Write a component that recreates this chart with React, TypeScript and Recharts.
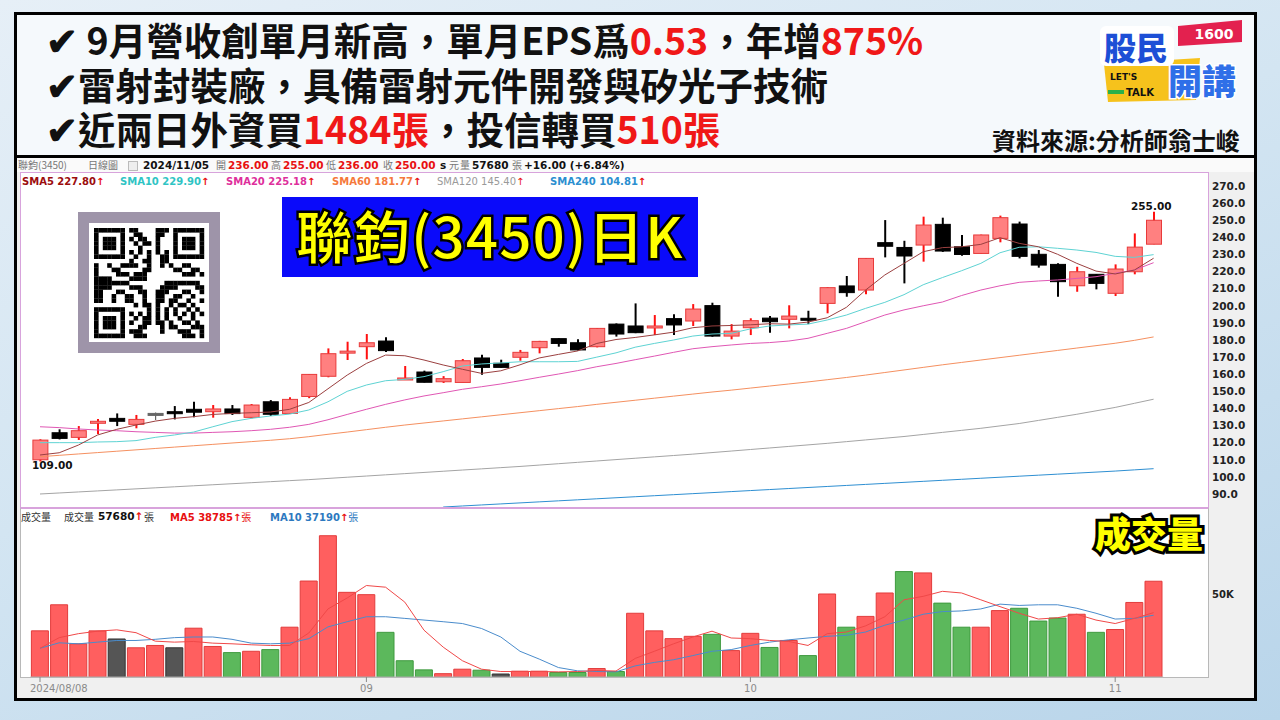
import React from "react";
import { ComposedChart, Bar, Line, XAxis, YAxis, Cell } from "recharts";

const CJK = '"Noto Sans CJK TC", "Noto Sans", sans-serif';
const VERD = '"DejaVu Sans", Verdana, sans-serif';

// trading days 2024/08/08 - 2024/11/05
const DATES = [
  "08/08", "08/09", "08/12", "08/13", "08/14", "08/15", "08/16", "08/19", "08/20", "08/21",
  "08/22", "08/23", "08/26", "08/27", "08/28", "08/29", "08/30",
  "09/02", "09/03", "09/04", "09/05", "09/06", "09/09", "09/10", "09/11", "09/12", "09/13",
  "09/16", "09/18", "09/19", "09/20", "09/23", "09/24", "09/25", "09/26", "09/27", "09/30",
  "10/01", "10/04", "10/07", "10/08", "10/09", "10/11", "10/14", "10/15", "10/16", "10/17",
  "10/18", "10/21", "10/22", "10/23", "10/24", "10/25", "10/28", "10/29", "10/30",
  "11/01", "11/04", "11/05",
];

const OPEN = [
  110.0, 125.8, 123.1, 132.0, 134.2, 130.7, 137.1, 138.1, 139.5, 138.1,
  139.7, 134.8, 143.9, 137.1, 147.0, 158.8, 172.5, 176.1, 179.4, 157.2,
  161.3, 155.6, 155.2, 169.5, 166.4, 169.9, 175.5, 180.8, 178.4, 176.1,
  189.3, 188.2, 187.2, 192.5, 191.1, 200.1, 182.3, 187.2, 192.8, 192.1,
  192.7, 201.4, 211.6, 209.2, 236.9, 234.1, 235.5, 247.6, 234.5, 230.6,
  239.4, 247.8, 230.1, 224.2, 211.7, 218.4, 207.3, 219.9, 236.0,
];
const HIGH = [
  122.0, 127.8, 129.7, 133.8, 137.1, 136.2, 137.7, 141.4, 143.9, 142.0,
  142.0, 142.6, 144.9, 146.5, 160.0, 175.1, 179.0, 183.5, 181.6, 164.8,
  162.1, 158.9, 168.9, 171.4, 168.5, 174.2, 179.5, 181.0, 180.4, 187.0,
  189.7, 201.4, 194.6, 195.0, 201.0, 201.8, 189.3, 192.7, 194.0, 200.3,
  197.1, 210.9, 217.4, 227.9, 250.1, 238.0, 252.1, 251.5, 241.4, 241.6,
  252.7, 249.2, 232.6, 224.8, 222.8, 218.6, 224.2, 242.3, 255.0,
];
const LOW = [
  109.0, 121.9, 121.6, 125.1, 129.7, 128.4, 133.2, 133.6, 134.8, 134.6,
  136.2, 134.2, 135.6, 136.8, 146.0, 158.2, 168.3, 168.7, 173.0, 157.0,
  155.2, 154.9, 155.2, 159.7, 163.8, 167.9, 172.2, 176.1, 173.8, 175.7,
  182.0, 184.0, 182.9, 182.9, 188.2, 181.9, 180.4, 182.9, 184.3, 186.8,
  189.3, 195.6, 205.3, 206.7, 228.3, 213.1, 225.8, 231.5, 229.3, 230.4,
  237.1, 227.7, 222.3, 205.3, 208.2, 209.6, 205.7, 218.4, 236.0,
];
const CLOSE = [
  121.5, 122.5, 127.0, 132.5, 132.5, 133.6, 137.1, 137.1, 137.8, 139.7,
  137.0, 142.0, 136.6, 145.3, 159.9, 172.0, 173.5, 178.4, 173.8, 157.8,
  155.3, 157.4, 167.9, 164.0, 164.0, 172.8, 179.2, 178.0, 174.2, 186.8,
  183.5, 184.3, 188.2, 188.8, 198.1, 182.3, 185.2, 191.3, 190.7, 194.0,
  191.9, 210.6, 207.7, 227.7, 234.8, 229.1, 247.2, 232.0, 230.0, 241.4,
  251.5, 228.9, 223.8, 214.1, 219.9, 213.1, 221.5, 234.3, 250.0,
];

const SMA5 = [
  112.8, 114.1, 118.6, 124.5, 127.8, 130.3, 132.6, 134.2, 135.2, 136.5,
  137.1, 137.5, 137.9, 139.5, 143.5, 151.5, 159.5, 166.3, 171.2, 170.8,
  168.3, 165.4, 162.9, 160.5, 162.0, 165.5, 169.5, 171.6, 173.6, 178.0,
  180.3, 181.5, 183.0, 184.6, 187.2, 188.2, 188.5, 188.9, 189.5, 189.3,
  190.5, 193.0, 199.1, 209.2, 218.0, 224.8, 231.6, 234.0, 234.5, 235.9,
  239.8, 236.5, 234.5, 230.1, 224.8, 220.3, 218.6, 220.9, 227.8,
];
const SMA10 = [
  120.0, 120.0, 120.0, 120.4, 120.6, 121.2, 123.1, 124.5, 126.2, 129.3,
  132.3, 134.2, 135.6, 136.7, 139.1, 143.9, 150.0, 153.7, 156.2, 157.0,
  158.6, 161.5, 164.8, 166.0, 166.6, 167.3, 167.3, 167.3, 167.5, 170.0,
  172.5, 175.8, 178.0, 180.0, 182.3, 183.5, 183.9, 186.5, 188.2, 188.8,
  189.3, 191.7, 194.6, 198.5, 202.0, 206.5, 212.3, 216.5, 220.5, 224.8,
  231.0, 234.2, 234.5, 233.6, 232.6, 231.2, 228.9, 228.3, 229.9,
];
const SMA20 = [
  129.3, 128.8, 128.0, 127.4, 127.0, 126.4, 126.0, 125.6, 125.6, 126.0,
  126.4, 127.0, 127.8, 129.0, 130.7, 133.4, 136.5, 139.5, 142.4, 145.0,
  147.3, 149.2, 151.2, 152.7, 154.3, 156.2, 158.2, 160.1, 162.1, 164.4,
  166.3, 168.5, 170.6, 172.8, 174.9, 176.1, 177.1, 178.0, 178.5, 179.4,
  181.0, 183.9, 186.8, 190.7, 194.6, 197.6, 200.0, 202.2, 206.0, 209.2,
  211.7, 213.7, 214.5, 215.1, 216.0, 217.0, 219.0, 220.9, 225.2,
];
const SMA60 = [
  111.8, 112.6, 113.4, 114.2, 115.0, 115.8, 116.6, 117.4, 118.2, 119.0,
  119.8, 120.6, 121.4, 122.3, 123.5, 124.9, 126.2, 127.6, 129.0, 130.3,
  131.5, 132.7, 133.9, 135.1, 136.3, 137.5, 138.7, 139.9, 141.1, 142.4,
  143.6, 144.8, 146.0, 147.2, 148.4, 149.6, 150.7, 151.9, 153.1, 154.3,
  155.5, 156.8, 158.1, 159.5, 161.0, 162.5, 164.0, 165.5, 166.9, 168.3,
  169.7, 171.1, 172.5, 173.9, 175.3, 176.7, 178.1, 179.8, 181.8,
];
const SMA120 = [
  90.0, 90.6, 91.2, 91.8, 92.4, 93.0, 93.6, 94.2, 94.8, 95.4,
  96.0, 96.6, 97.2, 97.8, 98.4, 99.1, 99.8, 100.5, 101.2, 101.9,
  102.6, 103.3, 104.0, 104.7, 105.4, 106.1, 106.9, 107.7, 108.5, 109.3,
  110.1, 110.9, 111.7, 112.5, 113.3, 114.2, 115.1, 116.0, 116.9, 117.8,
  118.7, 119.6, 120.6, 121.6, 122.6, 123.6, 124.8, 126.0, 127.2, 128.4,
  129.8, 131.2, 133.0, 134.8, 136.6, 138.6, 140.6, 143.0, 145.4,
];
const SMA240 = [
  null, null, null, null, null, null, null, null, null, null,
  null, null, null, null, null, null, null, null, null, null,
  null, 82.4, 83.0, 83.6, 84.2, 84.8, 85.4, 86.0, 86.6, 87.2,
  87.8, 88.4, 89.0, 89.6, 90.2, 90.8, 91.4, 92.0, 92.6, 93.2,
  93.8, 94.4, 95.0, 95.6, 96.2, 96.8, 97.4, 98.0, 98.6, 99.2,
  99.8, 100.4, 101.0, 101.6, 102.2, 102.8, 103.4, 104.1, 104.8,
];

// volume in lots (張)
const VOLUME = [
  27800, 43500, 20000, 27800, 22900, 17600, 19000, 17600, 29400, 18400,
  14700, 15500, 16500, 30000, 57800, 85100, 51000, 49600, 26900, 9800,
  4300, 2000, 4700, 4100, 1800, 3500, 3500, 2700, 2700, 5100,
  3300, 38400, 27800, 23100, 24500, 25700, 15900, 26300, 17800, 22000,
  12900, 50000, 30000, 36500, 50600, 63500, 62700, 44500, 30000, 30000,
  40000, 41400, 33700, 35500, 37800, 26900, 28600, 44900, 57680,
];
const VOL_MA5 = [
  17300, 23700, 26100, 27600, 28400, 26700, 21600, 21000, 21400, 20400,
  20000, 19400, 19000, 19000, 26500, 41000, 47600, 55100, 54100, 45100,
  28200, 18000, 9800, 4700, 3300, 3300, 3300, 3100, 3300, 3900,
  3600, 11200, 15500, 20000, 24100, 27600, 23500, 23100, 22000, 21400,
  19000, 26100, 27100, 30800, 36300, 46500, 48600, 51600, 50600, 46500,
  42400, 38400, 34900, 35700, 37800, 34300, 32200, 35300, 38785,
];
const VOL_MA10 = [
  17300, 20600, 20000, 21000, 22000, 22000, 22700, 23700, 24100, 24100,
  22700, 20400, 20000, 20400, 23100, 30200, 33300, 36300, 36300, 35300,
  34300, 33300, 32200, 29200, 24100, 15500, 10800, 5700, 3700, 3300,
  3100, 6700, 8800, 10400, 12900, 15500, 16500, 19000, 21000, 22400,
  23500, 24500, 25100, 27100, 31200, 34300, 37800, 39400, 39800, 41000,
  43900, 43100, 43500, 43500, 41400, 38400, 34900, 35300, 37190,
];

const PRICE_TICKS = [90, 100, 110, 120, 130, 140, 150, 160, 170, 180, 190, 200, 210, 220, 230, 240, 250, 260, 270];
const VOL_TICKS = [50000];
const MONTH_TICKS = ["08/08", "09/02", "10/01", "11/01"];
const MONTH_LABELS: Record<string, string> = { "08/08": "2024/08/08", "09/02": "09", "10/01": "10", "11/01": "11" };

// headline segments: [text, highlighted]
const HEADLINE_1: [string, boolean][] = [["✔ 9月營收創單月新高，單月EPS爲", false], ["0.53", true], ["，年增", false], ["875%", true]];
const HEADLINE_2: [string, boolean][] = [["✔雷射封裝廠，具備雷射元件開發與矽光子技術", false]];
const HEADLINE_3: [string, boolean][] = [["✔近兩日外資買", false], ["1484張", true], ["，投信轉買", false], ["510張", true]];

const rows = DATES.map((d, i) => ({
  date: d,
  open: OPEN[i],
  high: HIGH[i],
  low: LOW[i],
  close: CLOSE[i],
  range: [LOW[i], HIGH[i]],
  sma5: SMA5[i],
  sma10: SMA10[i],
  sma20: SMA20[i],
  sma60: SMA60[i],
  sma120: SMA120[i],
  sma240: SMA240[i],
  vol: VOLUME[i],
  vma5: VOL_MA5[i],
  vma10: VOL_MA10[i],
}));

function volColor(i: number) {
  const prev = i === 0 ? OPEN[0] : CLOSE[i - 1];
  if (CLOSE[i] > prev) return { fill: "#ff5f5f", stroke: "#e23c3c" };
  if (CLOSE[i] < prev) return { fill: "#5cb85c", stroke: "#3f9a3f" };
  return { fill: "#555555", stroke: "#333333" };
}

function Candle(props: any) {
  const { x, y, width, height, payload } = props;
  const { open, close, high, low } = payload;
  const top = Math.min(y, y + height);
  const h = Math.abs(height);
  const k = high > low ? h / (high - low) : 0;
  const yO = top + (high - open) * k;
  const yC = top + (high - close) * k;
  const cx = x + width / 2;
  const flat = open === close;
  const up = close > open;
  const wick = flat ? "#666" : up ? "#ff1010" : "#000";
  const fill = flat ? "#666" : up ? "#ff8080" : "#000";
  const stroke = flat ? "#666" : up ? "#e83a3a" : "#000";
  const bTop = Math.min(yO, yC);
  const bH = Math.max(Math.abs(yO - yC), 2);
  return (
    <g>
      <line x1={cx} x2={cx} y1={top} y2={top + h} stroke={wick} strokeWidth={flat ? 1.2 : 2} />
      <rect x={x + 0.5} y={bTop} width={width - 1} height={bH} fill={fill} stroke={stroke} strokeWidth={1} />
    </g>
  );
}

function MonthTick(props: any) {
  const { x, y, payload } = props;
  const first = payload.value === "08/08";
  return (
    <text x={first ? x - 10 : x} y={y + 8} textAnchor={first ? "start" : "middle"} fontSize={10} fill="#8a8a8a" fontFamily={VERD}>
      {MONTH_LABELS[payload.value]}
    </text>
  );
}

function QRCode() {
  const n = 25;
  const cell = 4.4;
  const cells: React.ReactNode[] = [];
  const finder = (r: number, c: number) => {
    const inBox = (r0: number, c0: number) => r >= r0 && r < r0 + 7 && c >= c0 && c < c0 + 7;
    const ring = (r0: number, c0: number) => {
      const rr = r - r0, cc = c - c0;
      return rr === 0 || rr === 6 || cc === 0 || cc === 6 || (rr >= 2 && rr <= 4 && cc >= 2 && cc <= 4);
    };
    if (inBox(0, 0)) return ring(0, 0) ? 1 : 0;
    if (inBox(0, n - 7)) return ring(0, n - 7) ? 1 : 0;
    if (inBox(n - 7, 0)) return ring(n - 7, 0) ? 1 : 0;
    if ((r === 7 && (c < 8 || c > n - 9)) || (c === 7 && (r < 8 || r > n - 9)) || (r === n - 8 && c < 8) || (c === n - 8 && r < 8)) return 0;
    return -1;
  };
  for (let r = 0; r < n; r++) {
    for (let c = 0; c < n; c++) {
      let v = finder(r, c);
      if (v === -1) v = ((r * 37 + c * 17 + r * c * 11 + (r ^ c) * 5) % 7) < 3 ? 1 : 0;
      if (v) cells.push(<rect key={r * n + c} x={c * cell} y={r * cell} width={cell + 0.2} height={cell + 0.2} fill="#000" />);
    }
  }
  return (
    <div style={{ position: "absolute", left: 78, top: 212, width: 142, height: 141, background: "#9e94a9" }}>
      <div style={{ position: "absolute", left: 11, top: 11, width: 120, height: 119, background: "#fff" }}>
        <svg width={120} height={119} style={{ position: "absolute", left: 0, top: 0 }}>
          <g transform="translate(5,5)">{cells}</g>
        </svg>
      </div>
    </div>
  );
}

function Logo() {
  return (
    <svg width={156} height={104} style={{ position: "absolute", left: 1096, top: 10 }}>
      <polygon points="8,54 104,48 100,90 12,92" fill="#f6c21c" />
      <rect x={4} y={16} width={74} height={40} rx={6} fill="#fff" />
      <polygon points="82,16 146,10 146,32 82,36" fill="#e3214f" />
      <text x={118} y={29} fontSize={14} fontWeight={700} fill="#fff" textAnchor="middle" fontFamily={VERD}>1600</text>
      <text x={8} y={50} fontSize={32} fontWeight={900} fill="#1d4fd6" fontFamily={CJK}>股民</text>
      <text x={72} y={84} fontSize={34} fontWeight={900} fill="#2f6fe8" stroke="#fff" strokeWidth={3} paintOrder="stroke" fontFamily={CJK}>開講</text>
      <rect x={12} y={80} width={16} height={4} fill="#2bb04a" />
      <text x={14} y={70} fontSize={9} fontWeight={700} fill="#111" fontFamily={VERD}>LET'S</text>
      <text x={30} y={86} fontSize={10} fontWeight={700} fill="#111" fontFamily={VERD}>TALK</text>
    </svg>
  );
}

function HeaderLine({ top, parts }: { top: number; parts: [string, boolean][] }) {
  return (
    <div style={{ position: "absolute", left: 46, top, display: "flex", fontFamily: CJK, fontSize: 37.5, fontWeight: 700, lineHeight: "42px", whiteSpace: "pre" }}>
      {parts.map(([t, hi], i) => (
        <span key={i} style={{ color: hi ? "#f01818" : "#111" }}>{t}</span>
      ))}
    </div>
  );
}

function Info({ left, children, style }: { left: number; children: React.ReactNode; style?: React.CSSProperties }) {
  return (
    <span style={{ position: "absolute", left, top: 0, whiteSpace: "nowrap", ...style }}>{children}</span>
  );
}

export default function App() {
  const grayS: React.CSSProperties = { color: "#777", fontFamily: CJK, fontSize: 10 };
  const valS: React.CSSProperties = { fontFamily: VERD, fontSize: 10.5, fontWeight: 700, color: "#111" };
  const redV: React.CSSProperties = { ...valS, color: "#e81010" };
  const legendS: React.CSSProperties = { fontFamily: VERD, fontSize: 10, fontWeight: 700 };
  const arrow = <span style={{ color: "#e81010" }}>↑</span>;

  return (
    <div style={{ position: "absolute", left: 0, top: 0, width: 1280, height: 720, overflow: "hidden", background: "linear-gradient(160deg, #e6eff7 0%, #d3e5f2 45%, #b9d5ea 100%)" }}>
      {/* headline box */}
      <div style={{ position: "absolute", left: 14, top: 12, width: 1243, height: 146, border: "3px solid #000", boxSizing: "border-box", background: "#f5f9fc" }} />
      <HeaderLine top={18} parts={HEADLINE_1} />
      <HeaderLine top={63} parts={HEADLINE_2} />
      <HeaderLine top={107} parts={HEADLINE_3} />
      <div style={{ position: "absolute", left: 992, top: 124, fontFamily: CJK, fontSize: 24, fontWeight: 700, color: "#111", whiteSpace: "nowrap", lineHeight: "32px" }}>資料來源:分析師翁士峻</div>
      <Logo />

      {/* chart box */}
      <div style={{ position: "absolute", left: 14, top: 155, width: 1243, height: 546, border: "3px solid #000", boxSizing: "border-box", background: "#f0f0f0" }} />
      <div style={{ position: "absolute", left: 17, top: 158, width: 1237, height: 14, background: "#fafafa" }} />

      {/* quote line */}
      <div style={{ position: "absolute", left: 0, top: 158, width: 1280, height: 14, lineHeight: "14px" }}>
        <Info left={18} style={grayS}>聯鈞(3450)</Info>
        <Info left={88} style={grayS}>日線圖</Info>
        <span style={{ position: "absolute", left: 128, top: 3, width: 8, height: 8, border: "1px solid #bbb", background: "#eee" }} />
        <Info left={143} style={valS}>2024/11/05</Info>
        <Info left={216} style={grayS}>開</Info>
        <Info left={228} style={redV}>236.00</Info>
        <Info left={271} style={grayS}>高</Info>
        <Info left={283} style={redV}>255.00</Info>
        <Info left={326} style={grayS}>低</Info>
        <Info left={338} style={redV}>236.00</Info>
        <Info left={383} style={grayS}>收</Info>
        <Info left={395} style={redV}>250.00</Info>
        <Info left={440} style={valS}>s</Info>
        <Info left={449} style={grayS}>元</Info>
        <Info left={460} style={grayS}>量</Info>
        <Info left={472} style={valS}>57680</Info>
        <Info left={512} style={grayS}>張</Info>
        <Info left={524} style={valS}>+16.00 (+6.84%)</Info>
      </div>

      {/* panes */}
      <div style={{ position: "absolute", left: 20, top: 172, width: 1189, height: 336, background: "#fff", border: "1px solid #d8a3dc", boxSizing: "border-box" }} />
      <div style={{ position: "absolute", left: 20, top: 507, width: 1189, height: 171, background: "#fff", border: "1px solid #b8b8b8", borderTop: "2px solid #d8a3dc", boxSizing: "border-box" }} />

      {/* price legend */}
      <div style={{ position: "absolute", left: 0, top: 175, width: 1200, height: 13, lineHeight: "13px" }}>
        <Info left={22} style={{ ...legendS, color: "#9b0d0d" }}>SMA5 227.80{arrow}</Info>
        <Info left={120} style={{ ...legendS, color: "#2fc4c4" }}>SMA10 229.90{arrow}</Info>
        <Info left={226} style={{ ...legendS, color: "#de2f9c" }}>SMA20 225.18{arrow}</Info>
        <Info left={332} style={{ ...legendS, color: "#f5793b" }}>SMA60 181.77{arrow}</Info>
        <Info left={437} style={{ ...legendS, color: "#9a9a9a", fontWeight: 400 }}>SMA120 145.40{arrow}</Info>
        <Info left={550} style={{ ...legendS, color: "#2b8fd0" }}>SMA240 104.81{arrow}</Info>
      </div>

      {/* volume legend */}
      <div style={{ position: "absolute", left: 0, top: 510, width: 1200, height: 13, lineHeight: "13px" }}>
        <Info left={21} style={{ ...grayS, color: "#333" }}>成交量</Info>
        <Info left={64} style={{ ...grayS, color: "#333" }}>成交量</Info>
        <Info left={98} style={valS}>57680{arrow}</Info>
        <Info left={144} style={{ ...grayS, color: "#333" }}>張</Info>
        <Info left={170} style={{ ...legendS, color: "#e81010" }}>MA5 38785{arrow}<span style={{ fontFamily: CJK, fontWeight: 400 }}>張</span></Info>
        <Info left={270} style={{ ...legendS, color: "#2d79c0" }}>MA10 37190{arrow}<span style={{ fontFamily: CJK, fontWeight: 400 }}>張</span></Info>
      </div>

      {/* price chart */}
      <div style={{ position: "absolute", left: 0, top: 172 }}>
        <ComposedChart width={1260} height={335} data={rows} margin={{ top: 0, right: 36.8, bottom: 0, left: 30.4 }} barCategoryGap={0}>
          <XAxis dataKey="date" hide />
          <YAxis
            orientation="right"
            width={60}
            domain={[82.4, 278.2]}
            ticks={PRICE_TICKS}
            allowDataOverflow
            axisLine={false}
            tickLine={false}
            tickSize={0}
            tickMargin={48.8}
            tick={{ fontSize: 10.5, fontWeight: 700, fill: "#222", fontFamily: VERD }}
            tickFormatter={(v: number) => v.toFixed(1)}
          />
          <Line dataKey="sma240" stroke="#2e8fd2" strokeWidth={1} dot={false} isAnimationActive={false} />
          <Line dataKey="sma120" stroke="#a4a4a4" strokeWidth={1} dot={false} isAnimationActive={false} />
          <Line dataKey="sma60" stroke="#f59060" strokeWidth={1} dot={false} isAnimationActive={false} />
          <Line dataKey="sma20" stroke="#e057b4" strokeWidth={1} dot={false} isAnimationActive={false} />
          <Line dataKey="sma10" stroke="#5ed3d3" strokeWidth={1} dot={false} isAnimationActive={false} />
          <Bar dataKey="range" barSize={16} isAnimationActive={false} shape={(p: any) => <Candle {...p} />} />
          <Line dataKey="sma5" stroke="#9b4040" strokeWidth={1} dot={false} isAnimationActive={false} />
        </ComposedChart>
      </div>

      {/* volume chart */}
      <div style={{ position: "absolute", left: 0, top: 508 }}>
        <ComposedChart width={1260} height={191} data={rows} margin={{ top: 0, right: 36.8, bottom: 0, left: 30.4 }} barCategoryGap={0}>
          <XAxis
            dataKey="date"
            ticks={MONTH_TICKS}
            interval={0}
            height={22}
            axisLine={{ stroke: "#b8b8b8" }}
            tickLine={{ stroke: "#888" }}
            tickSize={5}
            tick={(p: any) => <MonthTick {...p} />}
          />
          <YAxis
            orientation="right"
            width={60}
            domain={[0, 101800]}
            ticks={VOL_TICKS}
            allowDataOverflow
            axisLine={false}
            tickLine={false}
            tickSize={0}
            tickMargin={48.8}
            tick={{ fontSize: 10, fontWeight: 700, fill: "#222", fontFamily: VERD }}
            tickFormatter={() => "50K"}
          />
          <Bar dataKey="vol" barSize={17} isAnimationActive={false}>
            {rows.map((r, i) => {
              const c = volColor(i);
              return <Cell key={r.date} fill={c.fill} stroke={c.stroke} strokeWidth={1} />;
            })}
          </Bar>
          <Line dataKey="vma10" stroke="#4a8ccc" strokeWidth={1} dot={false} isAnimationActive={false} />
          <Line dataKey="vma5" stroke="#f04848" strokeWidth={1} dot={false} isAnimationActive={false} />
        </ComposedChart>
      </div>

      {/* price extremes */}
      <div style={{ position: "absolute", left: 1131, top: 200, ...valS, fontSize: 10.5 }}>255.00</div>
      <div style={{ position: "absolute", left: 32, top: 459, ...valS, fontSize: 10.5 }}>109.00</div>

      <QRCode />

      {/* title */}
      <svg width={440} height={110} style={{ position: "absolute", left: 271, top: 182 }}>
        <rect x={11} y={15} width={416} height={80} fill="#0a0afa" />
        <text x={219} y={76} textAnchor="middle" fontSize={56} fontWeight={500} fill="#ffff00" stroke="#000" strokeWidth={5} paintOrder="stroke" fontFamily={CJK} letterSpacing={1.5}>
          聯鈞(3450)日K
        </text>
      </svg>

      {/* volume tag */}
      <svg width={130} height={56} style={{ position: "absolute", left: 1084, top: 506 }}>
        <text x={65} y={42} textAnchor="middle" fontSize={36} fontWeight={900} fill="#ffff00" stroke="#000" strokeWidth={6} paintOrder="stroke" fontFamily={CJK}>
          成交量
        </text>
      </svg>
    </div>
  );
}
